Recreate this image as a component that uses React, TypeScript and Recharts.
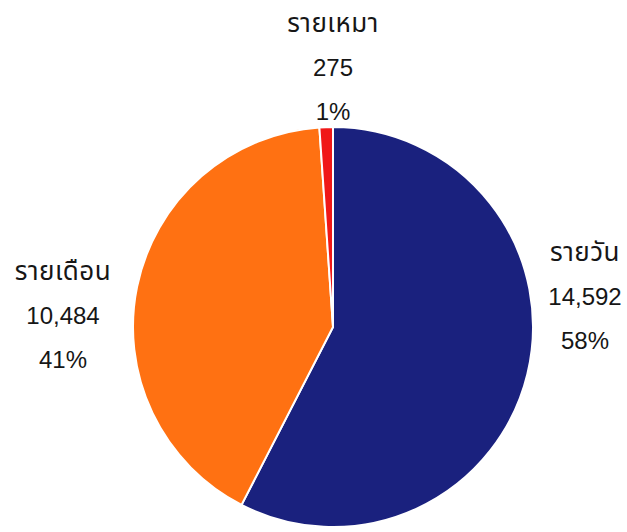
import { PieChart, Pie, Cell } from "recharts";

// ─── Data ─────────────────────────────────────────────────────────────────────

const categories = ["รายวัน", "รายเดือน", "รายเหมา"];
const counts = [14592, 10484, 275];
const percentLabels = ["58%", "41%", "1%"];

// ─── Style ────────────────────────────────────────────────────────────────────

const COLORS = ["#1a217e", "#ff7112", "#f01818"];
const FONT = "'Liberation Sans', Tahoma, 'Noto Sans Thai', sans-serif";
const LINE_GAP = 44;
// label anchor (middle line) relative to pie centre, per slice
const LABEL_OFFSETS: [number, number][] = [
  [252, -31],
  [-270, -12],
  [0, -260],
];

const data = categories.map((name, i) => ({ name, value: counts[i], pct: percentLabels[i] }));

function SliceLabel(props: any) {
  const { cx, cy, index } = props;
  const [dx, dy] = LABEL_OFFSETS[index];
  const x = cx + dx;
  const y = cy + dy;
  const d = data[index];
  return (
    <g>
      {[d.name, d.value.toLocaleString("en-US"), d.pct].map((t, k) => (
        <text
          key={k}
          x={x}
          y={y + (k - 1) * LINE_GAP}
          textAnchor="middle"
          dominantBaseline="central"
          fill="#161616"
          fontSize={k === 0 ? 26 : 24}
          letterSpacing={k === 0 ? 0.5 : 0}
          fontFamily={FONT}
        >
          {t}
        </text>
      ))}
    </g>
  );
}

export default function App() {
  return (
    <div style={{ position: "absolute", left: 0, top: 0, width: 627, height: 532, background: "#fff" }}>
      <PieChart width={627} height={532} margin={{ top: 0, right: 0, bottom: 0, left: 0 }}>
        <Pie
          data={data}
          dataKey="value"
          nameKey="name"
          cx={333}
          cy={327}
          outerRadius={200}
          startAngle={90}
          endAngle={-270}
          stroke="#ffffff"
          strokeWidth={2}
          label={SliceLabel}
          labelLine={false}
          isAnimationActive={false}
        >
          {data.map((_, i) => (
            <Cell key={i} fill={COLORS[i]} />
          ))}
        </Pie>
      </PieChart>
    </div>
  );
}
